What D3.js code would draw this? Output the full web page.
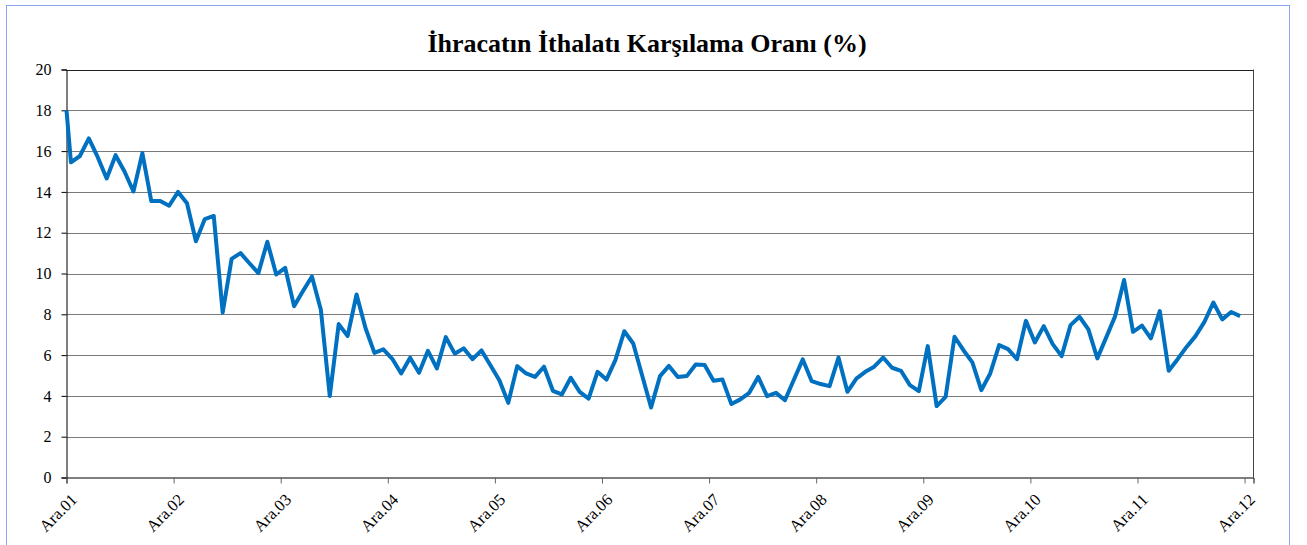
<!DOCTYPE html>
<html><head><meta charset="utf-8">
<script src="https://cdn.jsdelivr.net/npm/d3@7"></script>
<style>
html,body{margin:0;padding:0;background:#fff;}
svg{display:block;}
</style></head>
<body>
<svg id="chart" width="1307" height="545"></svg>
<script>
// Monthly export/import coverage ratio (%), categories centred between ticks.
// Value drawn at the left edge of the plot area, before the first category centre.
const edgeValue = 18.0;
const values = [
15.45,15.76,16.62,15.7,14.66,15.8,15.0,14.02,15.9,13.55,13.55,13.32,
14.0,13.44,11.58,12.67,12.82,8.09,10.72,11.0,10.5,10.02,11.56,9.95,
10.28,8.4,9.14,9.85,8.22,3.99,7.52,6.94,8.97,7.33,6.11,6.28,
5.82,5.1,5.87,5.13,6.21,5.35,6.88,6.07,6.33,5.8,6.23,5.5,
4.77,3.66,5.46,5.1,4.93,5.43,4.25,4.07,4.89,4.2,3.87,5.18,
4.8,5.75,7.17,6.57,5.0,3.43,4.97,5.47,4.93,4.97,5.54,5.51,
4.74,4.8,3.6,3.83,4.15,4.93,3.99,4.15,3.79,4.79,5.79,4.72,
4.58,4.48,5.88,4.2,4.85,5.18,5.43,5.88,5.38,5.23,4.53,4.23,
6.44,3.5,3.95,6.9,6.24,5.64,4.28,5.1,6.49,6.29,5.8,7.68,
6.62,7.42,6.54,5.95,7.47,7.88,7.26,5.84,6.87,7.91,9.68,7.14,
7.45,6.82,8.16,5.23,5.8,6.4,6.93,7.63,8.58,7.75,8.11,7.91
];
const categoryCount = 133;
const tickLabels = ["Ara.01","Ara.02","Ara.03","Ara.04","Ara.05","Ara.06","Ara.07","Ara.08","Ara.09","Ara.10","Ara.11","Ara.12"];
const tickInterval = 12;
const yTicks = [0,2,4,6,8,10,12,14,16,18,20];
const title = "İhracatın İthalatı Karşılama Oranı (%)";
const FONT = "Liberation Serif, Times New Roman, serif";

const svg = d3.select("#chart");
const m = {left:66.5, right:1253.5, top:69.5, bottom:477.5};

// outer frame
svg.append("rect").attr("x",6.5).attr("y",5.5).attr("width",1283).attr("height",560)
  .attr("fill","#fff").attr("stroke","#8aa6ee").attr("stroke-width",1);

const x = d3.scaleLinear().domain([0,categoryCount]).range([m.left,m.right]);
const y = d3.scaleLinear().domain([0,20]).range([m.bottom,m.top]);

// title
svg.append("text").attr("x",647).attr("y",52).attr("text-anchor","middle")
  .attr("font-family",FONT).attr("font-size",26).attr("font-weight","bold").attr("fill","#000")
  .text(title);

// gridlines
svg.append("g").selectAll("line").data(yTicks.filter(d=>d>0)).join("line")
  .attr("x1",m.left).attr("x2",m.right)
  .attr("y1",d=>Math.round(y(d))+0.5).attr("y2",d=>Math.round(y(d))+0.5)
  .attr("stroke",d=>d===20?"#222":"#7a7a7a").attr("stroke-width",1);

// right border of plot area
svg.append("line").attr("x1",m.right).attr("x2",m.right).attr("y1",m.top).attr("y2",m.bottom)
  .attr("stroke","#444").attr("stroke-width",1);

// y axis
const yAxis = d3.axisLeft(y).tickValues(yTicks).tickSize(5).tickPadding(10).tickFormat(d3.format("d"));
const gy = svg.append("g").attr("transform",`translate(${m.left},0)`).call(yAxis);
gy.attr("font-family",FONT).attr("font-size",16);
gy.select(".domain").attr("stroke","#000");
gy.selectAll(".tick line").attr("stroke","#000");
gy.selectAll(".tick text").attr("fill","#000");

// x axis: ticks at category boundaries every 12 categories
const boundaries = tickLabels.map((_,i)=>i*tickInterval);
const xAxis = d3.axisBottom(x).tickValues(boundaries).tickSize(6).tickFormat("");
const gx = svg.append("g").attr("transform",`translate(0,${m.bottom})`).call(xAxis);
gx.select(".domain").attr("stroke","#000");
gx.selectAll(".tick line").attr("stroke","#666");

// x labels centred on categories, rotated
svg.append("g").selectAll("text").data(tickLabels).join("text")
  .attr("transform",(d,i)=>`translate(${x(i*tickInterval+0.5)+3},${m.bottom+19}) rotate(-45)`)
  .attr("text-anchor","end").attr("dy","0.35em")
  .attr("font-family",FONT).attr("font-size",16.5).attr("fill","#000").text(d=>d);

// line: first value at the plot's left edge, then each month at its category centre
const pts = [{p:0,v:edgeValue}].concat(values.map((v,i)=>({p:i+0.5,v})));
const line = d3.line().x(d=>x(d.p)).y(d=>y(d.v));
svg.append("path").datum(pts)
  .attr("d",line).attr("fill","none").attr("stroke","#0070C0")
  .attr("stroke-width",4).attr("stroke-linejoin","round").attr("stroke-linecap","butt");
</script>
</body></html>
